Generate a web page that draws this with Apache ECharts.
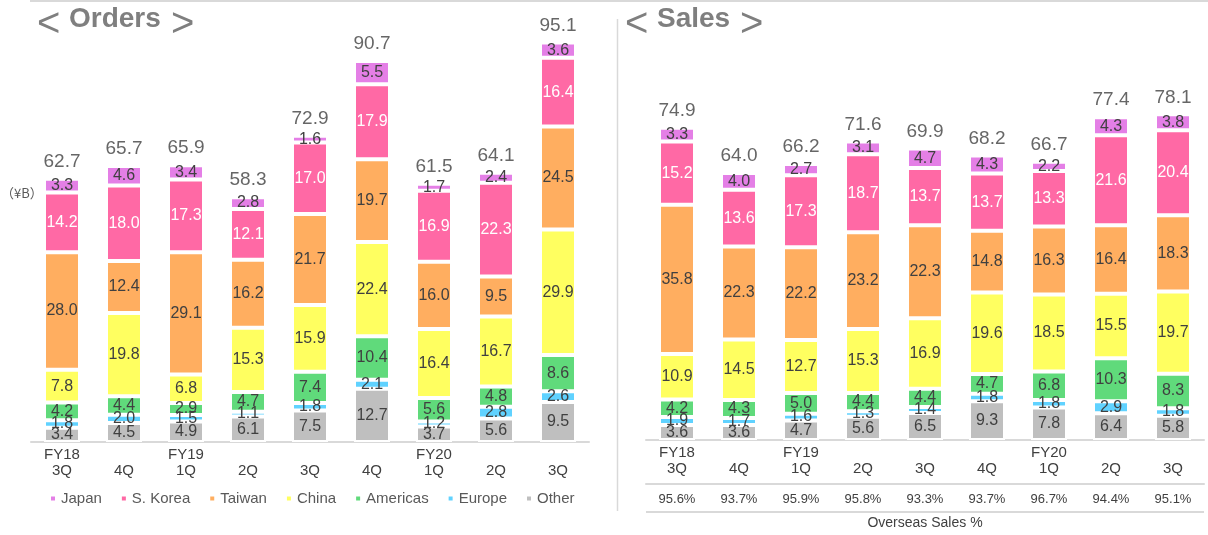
<!DOCTYPE html>
<html>
<head>
<meta charset="utf-8">
<script src="https://cdn.jsdelivr.net/npm/echarts@6/dist/echarts.min.js"></script>
<style>
  html, body { margin: 0; padding: 0; background: #fff; }
  #container { width: 1208px; height: 535px; }
</style>
</head>
<body>
<div id="container"></div>
<script>
var quarters = ['FY18\n3Q', '4Q', 'FY19\n1Q', '2Q', '3Q', '4Q', 'FY20\n1Q', '2Q', '3Q'];
var regions = ['Japan', 'S. Korea', 'Taiwan', 'China', 'Americas', 'Europe', 'Other'];

// Orders (¥B)
var ordJapan    = [3.3, 4.6, 3.4, 2.8, 1.6, 5.5, 1.7, 2.4, 3.6];
var ordKorea    = [14.2, 18.0, 17.3, 12.1, 17.0, 17.9, 16.9, 22.3, 16.4];
var ordTaiwan   = [28.0, 12.4, 29.1, 16.2, 21.7, 19.7, 16.0, 9.5, 24.5];
var ordChina    = [7.8, 19.8, 6.8, 15.3, 15.9, 22.4, 16.4, 16.7, 29.9];
var ordAmericas = [4.2, 4.4, 2.9, 4.7, 7.4, 10.4, 5.6, 4.8, 8.6];
var ordEurope   = [1.8, 2.0, 1.5, 1.1, 1.8, 2.1, 1.2, 2.8, 2.6];
var ordOther    = [3.4, 4.5, 4.9, 6.1, 7.5, 12.7, 3.7, 5.6, 9.5];
var ordTotal    = [62.7, 65.7, 65.9, 58.3, 72.9, 90.7, 61.5, 64.1, 95.1];

// Sales (¥B)
var salJapan    = [3.3, 4.0, 2.7, 3.1, 4.7, 4.3, 2.2, 4.3, 3.8];
var salKorea    = [15.2, 13.6, 17.3, 18.7, 13.7, 13.7, 13.3, 21.6, 20.4];
var salTaiwan   = [35.8, 22.3, 22.2, 23.2, 22.3, 14.8, 16.3, 16.4, 18.3];
var salChina    = [10.9, 14.5, 12.7, 15.3, 16.9, 19.6, 18.5, 15.5, 19.7];
var salAmericas = [4.2, 4.3, 5.0, 4.4, 4.4, 4.7, 6.8, 10.3, 8.3];
var salEurope   = [1.9, 1.7, 1.6, 1.3, 1.4, 1.8, 1.8, 2.9, 1.8];
var salOther    = [3.6, 3.6, 4.7, 5.6, 6.5, 9.3, 7.8, 6.4, 5.8];
var salTotal    = [74.9, 64.0, 66.2, 71.6, 69.9, 68.2, 66.7, 77.4, 78.1];

var overseasPct = ['95.6%', '93.7%', '95.9%', '95.8%', '93.3%', '93.7%', '96.7%', '94.4%', '95.1%'];

var colors = {
  'Japan': '#e47fe6',
  'S. Korea': '#ff69a5',
  'Taiwan': '#ffae60',
  'China': '#ffff60',
  'Americas': '#60da7b',
  'Europe': '#60d2ff',
  'Other': '#bfbfbf'
};

var FONT = '"Liberation Sans", Arial, sans-serif';

var dom = document.getElementById('container');
var myChart = echarts.init(dom, null, { renderer: 'canvas' });

// stacked from the bottom up
function stackSeries(idx, stackName, data) {
  var order = ['Other', 'Europe', 'Americas', 'China', 'Taiwan', 'S. Korea', 'Japan'];
  return order.map(function (name) {
    return {
      name: name,
      type: 'bar',
      stack: stackName,
      xAxisIndex: idx,
      yAxisIndex: idx,
      barWidth: 36,
      data: data[name],
      itemStyle: { color: colors[name], borderColor: '#fff', borderWidth: 2 },
      label: {
        show: true,
        position: 'inside',
        fontFamily: FONT,
        fontSize: 16,
        color: name === 'S. Korea' ? '#ffffff' : '#404040',
        formatter: function (p) { return p.value.toFixed(1); }
      }
    };
  });
}

function totalSeries(idx, data) {
  return {
    name: 'total',
    type: 'scatter',
    xAxisIndex: idx,
    yAxisIndex: idx,
    data: data,
    symbolSize: 1,
    itemStyle: { color: 'transparent' },
    silent: true,
    z: 5,
    label: {
      show: true,
      position: 'top',
      distance: 7,
      fontFamily: FONT,
      fontSize: 19,
      color: '#404040',
      formatter: function (p) { return p.value.toFixed(1); }
    }
  };
}

function catAxis(gridIdx) {
  return {
    type: 'category',
    gridIndex: gridIdx,
    data: quarters,
    axisTick: { show: false },
    axisLine: { lineStyle: { color: '#d9d9d9', width: 2 } },
    axisLabel: {
      fontFamily: FONT,
      fontSize: 15,
      lineHeight: 16,
      color: '#404040',
      margin: 5,
      formatter: function (v) { return v.indexOf('\n') < 0 ? '\n' + v : v; }
    }
  };
}

function valAxis(gridIdx) {
  return { type: 'value', gridIndex: gridIdx, min: 0, max: 100, show: false };
}

function titleParts(x, word, wordW) {
  return [
    { type: 'text', left: x - 1, top: 5, style: { text: '<', font: '40px ' + FONT, fill: '#7f7f7f' } },
    { type: 'text', left: x + 31, top: 5, style: { text: word, font: 'bold 28px ' + FONT, fill: '#7f7f7f' } },
    { type: 'text', left: x + 31 + wordW + 10, top: 5, style: { text: '>', font: '40px ' + FONT, fill: '#7f7f7f' } }
  ];
}

var option = {
  animation: false,
  legend: {
    data: regions,
    left: 44,
    top: 486,
    itemWidth: 6,
    itemHeight: 6,
    itemGap: 18,
    icon: 'rect',
    textStyle: { fontFamily: FONT, fontSize: 15, color: '#595959' }
  },
  grid: [
    { left: 31, width: 558, top: 22, bottom: 93 },
    { left: 646, width: 558, top: 23, bottom: 92 }
  ],
  xAxis: [
    catAxis(0),
    catAxis(1),
    {
      type: 'category',
      gridIndex: 1,
      position: 'bottom',
      offset: 44,
      data: overseasPct,
      axisTick: { show: false },
      axisLine: { lineStyle: { color: '#d9d9d9', width: 2 } },
      axisLabel: { fontFamily: FONT, fontSize: 13, color: '#404040', margin: 9 },
      name: 'Overseas Sales %',
      nameLocation: 'middle',
      nameGap: 32,
      nameTextStyle: { fontFamily: FONT, fontSize: 14, color: '#404040' }
    }
  ],
  yAxis: [valAxis(0), valAxis(1)],
  series: [].concat(
    stackSeries(0, 'orders', {
      'Japan': ordJapan, 'S. Korea': ordKorea, 'Taiwan': ordTaiwan, 'China': ordChina,
      'Americas': ordAmericas, 'Europe': ordEurope, 'Other': ordOther
    }),
    [totalSeries(0, ordTotal)],
    stackSeries(1, 'sales', {
      'Japan': salJapan, 'S. Korea': salKorea, 'Taiwan': salTaiwan, 'China': salChina,
      'Americas': salAmericas, 'Europe': salEurope, 'Other': salOther
    }),
    [totalSeries(1, salTotal)]
  ),
  graphic: [].concat(
    [
      { type: 'line', shape: { x1: 30, y1: 1, x2: 1208, y2: 1 }, style: { stroke: '#d9d9d9', lineWidth: 2 } },
      { type: 'line', shape: { x1: 617.5, y1: 19, x2: 617.5, y2: 511 }, style: { stroke: '#d9d9d9', lineWidth: 1.5 } },
      { type: 'line', shape: { x1: 646, y1: 512, x2: 1204, y2: 512 }, style: { stroke: '#d9d9d9', lineWidth: 2 } },
      { type: 'text', left: 1, top: 187, style: { text: '（¥B）', font: '13px "Noto Sans CJK JP"', fill: '#595959' } }
    ],
    titleParts(38, 'Orders', 92),
    titleParts(626, 'Sales', 73)
  )
};

if (option && typeof option === 'object') {
  myChart.setOption(option);
}

window.addEventListener('resize', myChart.resize);
</script>
</body>
</html>
